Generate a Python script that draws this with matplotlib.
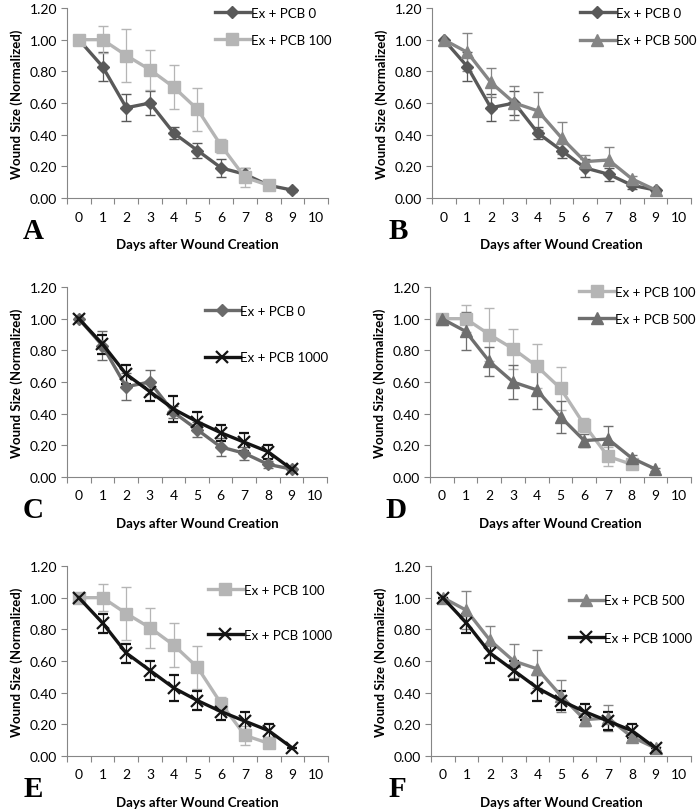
import numpy as np
import matplotlib.pyplot as plt

days = list(range(11))

pcb0 = [1.00, 0.83, 0.57, 0.60, 0.41, 0.30, 0.19, 0.15, 0.08, 0.05]
pcb0_err = [0.0, 0.09, 0.085, 0.075, 0.04, 0.05, 0.055, 0.04, 0.02, 0.01]

pcb100 = [1.00, 1.00, 0.90, 0.81, 0.70, 0.56, 0.33, 0.13, 0.08]
pcb100_err = [0.0, 0.085, 0.17, 0.125, 0.14, 0.135, 0.045, 0.06, 0.02]

pcb500 = [1.00, 0.92, 0.73, 0.60, 0.55, 0.38, 0.23, 0.24, 0.12, 0.05]
pcb500_err = [0.0, 0.12, 0.09, 0.105, 0.12, 0.10, 0.04, 0.08, 0.02, 0.01]

pcb1000 = [1.00, 0.84, 0.65, 0.54, 0.43, 0.35, 0.28, 0.22, 0.16, 0.05]
pcb1000_err = [0.0, 0.06, 0.06, 0.06, 0.08, 0.06, 0.05, 0.055, 0.045, 0.0]

series = {
    'Ex + PCB 0': (pcb0, pcb0_err, 'D', 6),
    'Ex + PCB 100': (pcb100, pcb100_err, 's', 8.5),
    'Ex + PCB 500': (pcb500, pcb500_err, '^', 8.5),
    'Ex + PCB 1000': (pcb1000, pcb1000_err, 'x', 9),
}

# letter, pixel box (left, top, right, bottom), members, legend anchor (x, y), spacing
panels = [
    ('A', (67, 9, 328, 199), [('Ex + PCB 0', '#595959'), ('Ex + PCB 100', '#b5b5b5')], (0.567, 1.005), 1.1),
    ('B', (432, 9, 691, 199), [('Ex + PCB 0', '#595959'), ('Ex + PCB 500', '#858585')], (0.571, 1.005), 1.15),
    ('C', (67, 288, 327, 478), [('Ex + PCB 0', '#6a6a6a'), ('Ex + PCB 1000', '#141414')], (0.53, 0.905), 2.6),
    ('D', (430, 288, 691, 478), [('Ex + PCB 100', '#b5b5b5'), ('Ex + PCB 500', '#6e6e6e')], (0.571, 1.005), 1.1),
    ('E', (67, 567, 328, 757), [('Ex + PCB 100', '#b5b5b5'), ('Ex + PCB 1000', '#141414')], (0.54, 0.905), 2.5),
    ('F', (431, 567, 691, 757), [('Ex + PCB 500', '#858585'), ('Ex + PCB 1000', '#141414')], (0.53, 0.85), 1.9),
]

plt.rcParams['font.family'] = ['Lato', 'DejaVu Sans']
W, H = 700, 812
fig = plt.figure(figsize=(W / 100, H / 100), dpi=100)

for letter, (l, t, r, b), members, anchor, spacing in panels:
    ax = fig.add_axes([l / W, 1 - b / H, (r - l) / W, (b - t) / H])
    handles = []
    names = []
    for name, color in members:
        vals, err, marker, ms = series[name]
        x = np.arange(len(vals))
        c = ax.errorbar(x, vals, yerr=err, color=color, lw=2.4, marker=marker, ms=ms,
                        mew=1.6 if marker == 'x' else 1, elinewidth=0.9, capsize=3.5,
                        capthick=0.9)
        handles.append(c.lines[0])
        names.append(name)
    ax.set_xlim(-0.5, 10.5)
    ax.set_ylim(0, 1.2)
    ax.set_yticks(np.arange(0, 1.21, 0.2))
    ax.set_yticklabels([f'{v:.2f}' for v in np.arange(0, 1.21, 0.2)])
    ax.set_xticks(np.arange(-0.5, 11, 1))
    ax.set_xticklabels([])
    ax.set_xticks(days, minor=True)
    ax.set_xticklabels([str(d) for d in days], minor=True)
    ax.tick_params(axis='x', which='minor', length=0, pad=9, labelsize=10)
    ax.tick_params(axis='x', which='major', length=4, color='#868686')
    ax.tick_params(axis='y', length=4, color='#868686', labelsize=10, pad=3)
    for side in ['top', 'right']:
        ax.spines[side].set_visible(False)
    for side in ['left', 'bottom']:
        ax.spines[side].set_color('#868686')
    ax.set_ylabel('Wound Size (Normalized)', fontsize=9.5, fontweight='bold', labelpad=5)
    ax.set_xlabel('Days after Wound Creation', fontsize=9.5, fontweight='bold', labelpad=11)
    ax.legend(handles, names, loc='upper left', bbox_to_anchor=anchor, frameon=False,
              fontsize=9.5, handlelength=2.65, handletextpad=0.05, labelspacing=spacing,
              borderaxespad=0, borderpad=0)
    ax.text(-0.13, -0.17, letter, transform=ax.transAxes, fontsize=21, fontweight='bold',
            family='Liberation Serif', ha='center', va='center')

fig.savefig('out.png', dpi=100)
